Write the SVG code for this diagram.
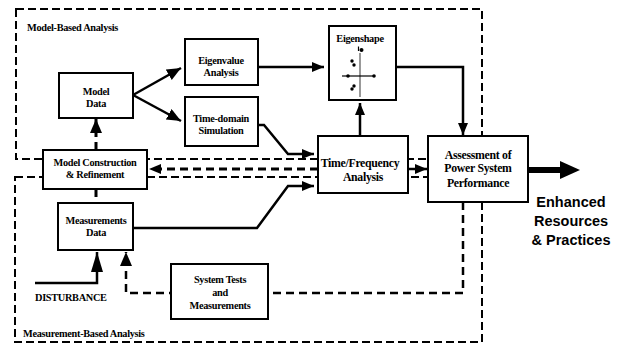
<svg xmlns="http://www.w3.org/2000/svg" width="618" height="345" viewBox="0 0 618 345">
<style>
.bg{fill:#fff}
.region{fill:none;stroke:#000;stroke-width:2;stroke-dasharray:8 4}
.box{fill:#fff;stroke:#000;stroke-width:2}
.t{font-family:"Liberation Serif","Times New Roman",serif;font-weight:bold;font-size:10.3px;fill:#000;text-anchor:middle;letter-spacing:-0.3px}
.tl{font-family:"Liberation Serif","Times New Roman",serif;font-weight:bold;font-size:10.3px;fill:#000;letter-spacing:-0.3px}
.tb{font-family:"Liberation Serif","Times New Roman",serif;font-weight:bold;font-size:11.8px;fill:#000;text-anchor:middle;letter-spacing:-0.3px}
.big{font-family:"Liberation Sans",Arial,sans-serif;font-weight:bold;font-size:14.5px;fill:#000;text-anchor:middle}
.c{fill:none;stroke:#000;stroke-width:2.5}
.cd{fill:none;stroke:#000;stroke-width:3;stroke-dasharray:8 5}
.cdt{fill:none;stroke:#000;stroke-width:2.5;stroke-dasharray:8 5}
</style>
<defs>
<marker id="ah" markerUnits="userSpaceOnUse" markerWidth="14" markerHeight="12" refX="12" refY="5" orient="auto">
<path d="M0,0 L12,5 L0,10 Z" fill="#000"/>
</marker>
<marker id="ahM" markerUnits="userSpaceOnUse" markerWidth="16" markerHeight="14" refX="14" refY="6" orient="auto">
<path d="M0,0 L14,6 L0,12 Z" fill="#000"/>
</marker>
<marker id="ahL" markerUnits="userSpaceOnUse" markerWidth="22" markerHeight="14" refX="20" refY="6" orient="auto">
<path d="M0,0 L20,6 L0,12 Z" fill="#000"/>
</marker>
</defs>
<rect class="bg" x="0" y="0" width="618" height="345"/>

<g id="regions">
<rect class="region" x="16" y="9" width="466" height="150"/>
<rect class="region" x="15" y="177" width="467" height="165"/>
<text class="tl" x="27" y="31">Model-Based Analysis</text>
<text class="tl" x="23" y="337">Measurement-Based Analysis</text>
</g>

<g id="connectors">
<line class="c" x1="133" y1="95" x2="181" y2="68" marker-end="url(#ahM)" stroke-width="3"/>
<line class="c" x1="133" y1="95" x2="181" y2="121" marker-end="url(#ahM)" stroke-width="3"/>
<line class="c" x1="258" y1="67" x2="324" y2="67" marker-end="url(#ah)"/>
<polyline class="c" points="396,67 463,67 463,135" marker-end="url(#ah)" stroke-width="2"/>
<line class="c" x1="360" y1="136" x2="360" y2="103" marker-end="url(#ah)" stroke-width="2"/>
<line class="c" x1="408" y1="169" x2="427" y2="169" marker-end="url(#ah)"/>
<polyline class="c" points="258,125 264,125 288,154 314,154" marker-end="url(#ah)"/>
<polyline class="c" points="133,228 257,228 288,186 314,186" marker-end="url(#ah)"/>
<line class="cd" x1="318" y1="169" x2="149" y2="169" marker-end="url(#ah)"/>
<line class="cd" x1="96" y1="150" x2="96" y2="119" marker-end="url(#ahM)"/>
<line class="cd" x1="96" y1="189" x2="96" y2="203"/>
<polyline class="c" points="35,283 97,283 97,252" marker-end="url(#ahL)" stroke-width="4.5"/>
<polyline class="cdt" points="463,202 463,293 126,293 126,252" marker-end="url(#ahM)"/>
<line x1="528" y1="170" x2="562" y2="170" stroke="#000" stroke-width="6"/>
<path d="M560,161 L580,170 L560,179 Z" fill="#000"/>
</g>

<g id="model-data">
<rect class="box" x="59" y="73" width="74" height="45"/>
<text class="t" x="96" y="95">Model</text>
<text class="t" x="96" y="107">Data</text>
</g>

<g id="eigenvalue">
<rect class="box" x="185" y="39" width="73" height="46"/>
<text class="t" x="221" y="64">Eigenvalue</text>
<text class="t" x="221" y="76">Analysis</text>
</g>

<g id="time-domain">
<rect class="box" x="185" y="97" width="73" height="49"/>
<text class="t" x="221" y="122">Time-domain</text>
<text class="t" x="221" y="134">Simulation</text>
</g>

<g id="eigenshape">
<rect class="box" x="329" y="26" width="67" height="74"/>
<text class="t" x="360" y="42">Eigenshape</text>
<line x1="360" y1="53" x2="360" y2="97" stroke="#555" stroke-width="1.2"/>
<line x1="342" y1="76" x2="374" y2="76" stroke="#000" stroke-width="1.2"/>
<g fill="#000">
<circle cx="361.5" cy="50" r="2"/>
<line x1="358.5" y1="46.5" x2="358.5" y2="51" stroke="#000" stroke-width="1.2"/>
<circle cx="352" cy="61" r="1.7"/>
<circle cx="354" cy="65" r="1.7"/>
<circle cx="348" cy="76" r="1.8"/>
<circle cx="374" cy="76" r="1.8"/>
<circle cx="354" cy="86" r="1.7"/>
<circle cx="352" cy="89" r="1.7"/>
</g>
</g>

<g id="model-construction">
<rect class="box" x="43" y="150" width="104" height="39"/>
<text class="t" x="95" y="166">Model Construction</text>
<text class="t" x="95" y="178">&amp; Refinement</text>
</g>

<g id="time-frequency">
<rect class="box" x="318" y="136" width="90" height="57" stroke-width="2.5"/>
<text class="tb" x="360" y="167">Time/Frequency</text>
<text class="tb" x="363" y="181">Analysis</text>
</g>

<g id="assessment">
<rect class="box" x="428" y="136" width="100" height="66" stroke-width="2.5"/>
<text class="tb" x="478" y="159">Assessment of</text>
<text class="tb" x="478" y="172">Power System</text>
<text class="tb" x="478" y="187">Performance</text>
</g>

<g id="measurements-data">
<rect class="box" x="58" y="203" width="75" height="47"/>
<text class="t" x="96" y="224">Measurements</text>
<text class="t" x="96" y="236">Data</text>
</g>

<g id="system-tests">
<rect class="box" x="171" y="264" width="97" height="55"/>
<text class="t" x="220" y="283">System Tests</text>
<text class="t" x="220" y="296">and</text>
<text class="t" x="220" y="309">Measurements</text>
</g>

<g id="disturbance">
<text class="tl" x="35" y="301">DISTURBANCE</text>
</g>

<g id="outcome">
<text class="big" x="571" y="207">Enhanced</text>
<text class="big" x="571" y="226">Resources</text>
<text class="big" x="571" y="245">&amp; Practices</text>
</g>
</svg>
